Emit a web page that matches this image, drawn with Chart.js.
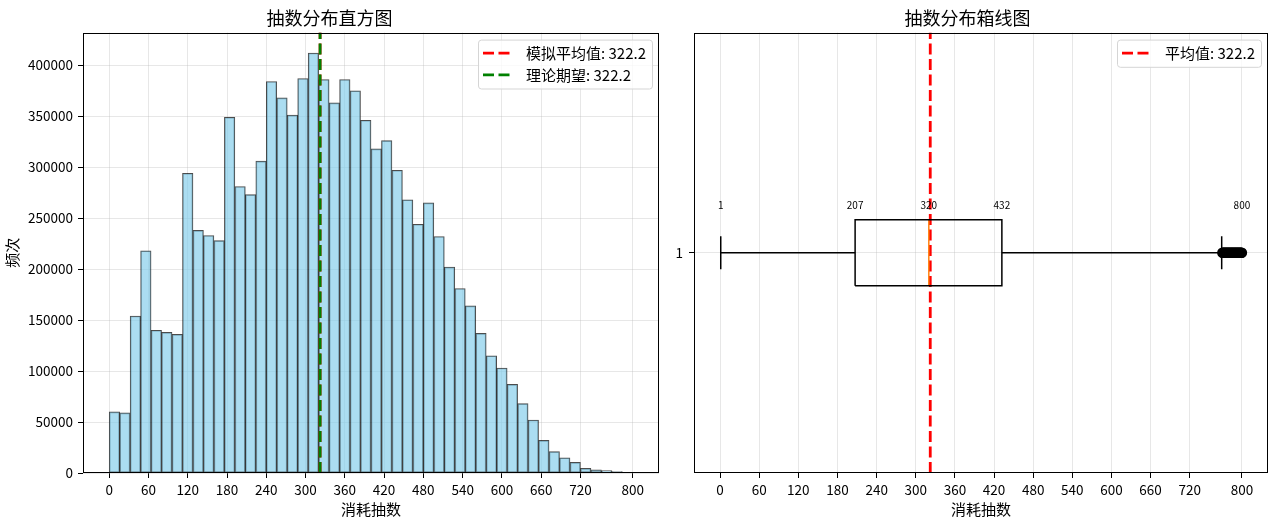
<!DOCTYPE html>
<html>
<head>
<meta charset="utf-8">
<script src="https://cdn.jsdelivr.net/npm/chart.js@4/dist/chart.umd.min.js"></script>
<style>
  html, body { margin: 0; padding: 0; background: #fff; }
  #wrap { position: relative; width: 1274px; height: 518px; overflow: hidden; }
  canvas { position: absolute; top: 0; }
  #hist { left: 0; }
  #box { left: 664px; }
</style>
</head>
<body>
<div id="wrap">
  <canvas id="hist" width="664" height="518"></canvas>
  <canvas id="box" width="610" height="518"></canvas>
</div>
<script>
// histogram: 50 bins of 16 draws each, from 0 to 800
const binWidth = 16;
const histCounts = [
  60000, 59000, 154000, 218000, 140000, 138000, 136000, 294000, 238000, 233000,
  228000, 349000, 281000, 273000, 306000, 384000, 368000, 351000, 387000, 412000,
  386000, 363000, 386000, 375000, 346000, 318000, 326000, 297000, 268000, 244000,
  265000, 232000, 202000, 181000, 164000, 137000, 115000, 103000, 87000, 68000,
  52000, 32000, 21000, 15000, 10500, 4600, 3200, 2300, 1300, 700,
];
const xTickValues = [0, 60, 120, 180, 240, 300, 360, 420, 480, 540, 600, 660, 720, 800];
const yTickValues = [0, 50000, 100000, 150000, 200000, 250000, 300000, 350000, 400000];
const simMean = 322.2;
const theoryMean = 322.2;

// box plot stats
const boxQuartiles = [207, 320, 432];
const boxWhiskers = [1, 769];
const boxOutliers = [770, 771, 772, 773, 774, 775, 776, 777, 778, 779, 780, 781, 782, 783, 784, 785,
  786, 787, 788, 789, 790, 791, 792, 793, 794, 795, 796, 797, 798, 799, 800];
const boxLabels = [1, 207, 320, 432, 800];

const FONT = '"Noto Sans CJK SC", "Liberation Sans", sans-serif';
Chart.defaults.color = '#000';
Chart.defaults.font.family = FONT;

const gridColor = 'rgba(176,176,176,0.3)';
const dash = [11, 4.5];

// matplotlib-like frame on all four sides
const frame = {
  id: 'frame',
  afterDraw(chart) {
    const { ctx, chartArea: a } = chart;
    const l = Math.round(a.left) + 0.5, t = Math.round(a.top) + 0.5;
    const r = Math.round(a.right) - 0.5, b = Math.round(a.bottom) - 0.5;
    ctx.save();
    ctx.strokeStyle = '#000';
    ctx.lineWidth = 1;
    ctx.strokeRect(l, t, r - l, b - t);
    ctx.restore();
  },
};

// legend box inside the plot, top right
const innerLegend = {
  id: 'innerLegend',
  afterDraw(chart, args, opts) {
    if (!opts.items) return;
    const { ctx, chartArea: a } = chart;
    ctx.save();
    ctx.font = `15px ${FONT}`;
    const textW = Math.max(...opts.items.map(it => ctx.measureText(it.label).width));
    const rowH = 21.7;
    const w = 48 + textW + 6;
    const h = opts.items.length * rowH + 5.5;
    const x = a.right - 7 - w, y = a.top + 7;
    ctx.beginPath();
    ctx.roundRect(x + 0.5, y + 0.5, w, h, 3);
    ctx.fillStyle = 'rgba(255,255,255,0.8)';
    ctx.fill();
    ctx.strokeStyle = '#d5d5d5';
    ctx.lineWidth = 1;
    ctx.stroke();
    opts.items.forEach((it, i) => {
      const cy = y + 13.5 + i * rowH;
      ctx.beginPath();
      ctx.setLineDash(dash);
      ctx.strokeStyle = it.color;
      ctx.lineWidth = 2.8;
      ctx.moveTo(x + 5, cy);
      ctx.lineTo(x + 33, cy);
      ctx.stroke();
      ctx.setLineDash([]);
      ctx.fillStyle = '#000';
      ctx.textBaseline = 'middle';
      ctx.fillText(it.label, x + 48, cy);
    });
    ctx.restore();
  },
};

// value labels above the box
const boxText = {
  id: 'boxText',
  afterDatasetsDraw(chart) {
    if (chart.canvas.id !== 'box') return;
    const { ctx, scales: { x, y } } = chart;
    ctx.save();
    ctx.font = `10px ${FONT}`;
    ctx.fillStyle = '#000';
    ctx.textAlign = 'center';
    ctx.textBaseline = 'alphabetic';
    boxLabels.forEach(v => ctx.fillText(String(v), x.getPixelForValue(v), y.getPixelForValue(1.1)));
    ctx.restore();
  },
};

function xScale() {
  return {
    type: 'linear',
    min: -40, max: 840,
    offset: false,
    afterBuildTicks: s => { s.ticks = xTickValues.map(v => ({ value: v })); },
    afterFit: s => { s.height = 45; },
    grid: { color: gridColor, offset: false, tickColor: '#000', tickLength: 5 },
    border: { display: false },
    ticks: { font: { size: 13.5 }, padding: 4, maxRotation: 0, autoSkip: false },
    title: { display: true, text: '消耗抽数', font: { size: 15 }, padding: { top: 0, bottom: 0 } },
  };
}

const titleOpts = text => ({
  display: true, text, font: { size: 18, weight: 'normal' }, padding: { top: 7, bottom: 4 }, color: '#000',
});

// left: histogram
new Chart(document.getElementById('hist'), {
  type: 'bar',
  data: {
    datasets: [
      {
        label: '频次',
        data: histCounts.map((c, i) => ({ x: i * binWidth + binWidth / 2, y: c })),
        backgroundColor: 'rgba(135,206,235,0.7)',
        borderColor: 'rgba(0,0,0,0.7)',
        borderWidth: 1,
        borderSkipped: false,
        barPercentage: 1,
        categoryPercentage: 1,
        order: 3,
      },
      {
        type: 'line',
        label: `模拟平均值: ${simMean}`,
        data: [{ x: simMean, y: 0 }, { x: simMean, y: 432000 }],
        borderColor: '#ff0000', borderWidth: 2.8, borderDash: dash, pointRadius: 0,
        order: 2,
      },
      {
        type: 'line',
        label: `理论期望: ${theoryMean}`,
        data: [{ x: theoryMean, y: 0 }, { x: theoryMean, y: 432000 }],
        borderColor: '#008000', borderWidth: 2.8, borderDash: dash, pointRadius: 0,
        order: 1,
      },
    ],
  },
  options: {
    responsive: false, animation: false,
    layout: { padding: { left: 0, right: 5, top: 0, bottom: 0 } },
    plugins: {
      legend: { display: false },
      tooltip: { enabled: false },
      title: titleOpts('抽数分布直方图'),
      innerLegend: {
        items: [
          { label: `模拟平均值: ${simMean}`, color: '#ff0000' },
          { label: `理论期望: ${theoryMean}`, color: '#008000' },
        ],
      },
    },
    scales: {
      x: xScale(),
      y: {
        min: 0, max: 432000,
        afterBuildTicks: s => { s.ticks = yTickValues.map(v => ({ value: v })); },
        afterFit: s => { s.width = 83; },
        grid: { color: gridColor, tickColor: '#000', tickLength: 5 },
        border: { display: false },
        ticks: { font: { size: 13.5 }, padding: 5, callback: v => String(v) },
        title: { display: true, text: '频次', font: { size: 15 }, padding: { top: 3, bottom: 0 } },
      },
    },
  },
  plugins: [frame, innerLegend],
});

// right: horizontal box plot
const [q1, med, q3] = boxQuartiles;
const [wLo, wHi] = boxWhiskers;
const hw = 0.075, cw = 0.0375;
const seg = (pts, color, extra = {}) => ({
  data: pts.map(([x, y]) => ({ x, y })),
  showLine: true, borderColor: color, borderWidth: 1.5, pointRadius: 0, fill: false, ...extra,
});

new Chart(document.getElementById('box'), {
  type: 'scatter',
  data: {
    datasets: [
      seg([[q1, 1 - hw], [q3, 1 - hw], [q3, 1 + hw], [q1, 1 + hw], [q1, 1 - hw]], '#000'),
      seg([[wLo, 1], [q1, 1]], '#000'),
      seg([[q3, 1], [wHi, 1]], '#000'),
      seg([[wLo, 1 - cw], [wLo, 1 + cw]], '#000'),
      seg([[wHi, 1 - cw], [wHi, 1 + cw]], '#000'),
      seg([[med, 1 - hw], [med, 1 + hw]], '#ff7f0e'),
      {
        data: boxOutliers.map(v => ({ x: v, y: 1 })),
        pointRadius: 4.5, pointBorderWidth: 1.5,
        pointBackgroundColor: 'rgba(0,0,0,0)', pointBorderColor: '#000',
      },
      seg([[simMean, 0.5], [simMean, 1.5]], '#ff0000', { borderWidth: 2.8, borderDash: dash }),
    ],
  },
  options: {
    responsive: false, animation: false,
    layout: { padding: { left: 0, right: 3, top: 0, bottom: 0 } },
    plugins: {
      legend: { display: false },
      tooltip: { enabled: false },
      title: titleOpts('抽数分布箱线图'),
      innerLegend: { items: [{ label: `平均值: ${simMean}`, color: '#ff0000' }] },
    },
    scales: {
      x: xScale(),
      y: {
        type: 'linear', min: 0.5, max: 1.5,
        afterBuildTicks: s => { s.ticks = [{ value: 1 }]; },
        afterFit: s => { s.width = 30; },
        grid: { color: gridColor, tickColor: '#000', tickLength: 5 },
        border: { display: false },
        ticks: { font: { size: 13.5 }, padding: 6 },
      },
    },
  },
  plugins: [frame, boxText, innerLegend],
});
</script>
</body>
</html>
